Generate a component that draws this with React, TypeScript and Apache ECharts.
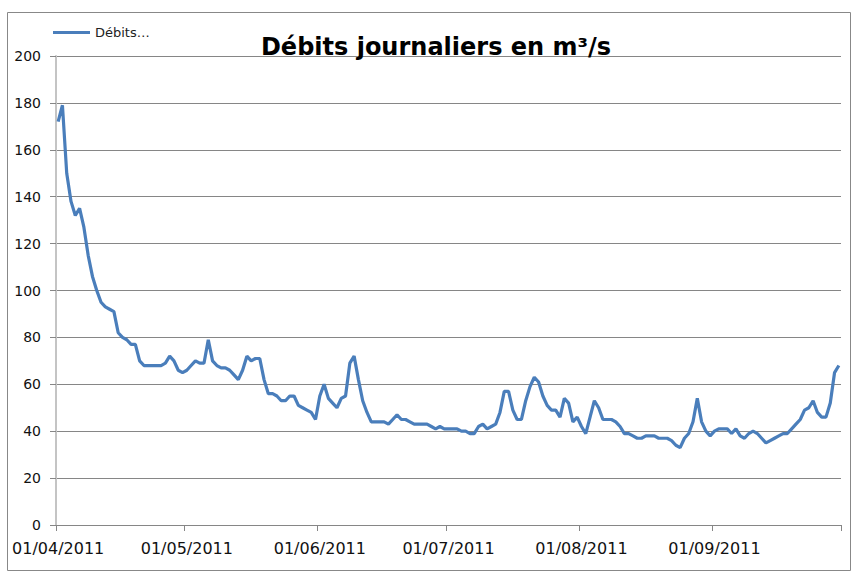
import React, { useEffect, useRef } from "react";
import * as echarts from "echarts";

// Daily discharge (m³/s)
const aprilFlow = [172, 179, 150, 138, 132, 135, 127, 115, 106, 100, 95, 93, 92, 91, 82, 80, 79, 77, 77, 70, 68, 68, 68, 68, 68, 69, 72, 70, 66, 65];
const mayFlow = [66, 68, 70, 69, 69, 79, 70, 68, 67, 67, 66, 64, 62, 66, 72, 70, 71, 71, 62, 56, 56, 55, 53, 53, 55, 55, 51, 50, 49, 48, 45];
const juneFlow = [55, 60, 54, 52, 50, 54, 55, 69, 72, 62, 53, 48, 44, 44, 44, 44, 43, 45, 47, 45, 45, 44, 43, 43, 43, 43, 42, 41, 42, 41];
const julyFlow = [41, 41, 41, 40, 40, 39, 39, 42, 43, 41, 42, 43, 48, 57, 57, 49, 45, 45, 53, 59, 63, 61, 55, 51, 49, 49, 46, 54, 52, 44, 46];
const augustFlow = [42, 39, 46, 53, 50, 45, 45, 45, 44, 42, 39, 39, 38, 37, 37, 38, 38, 38, 37, 37, 37, 36, 34, 33, 37, 39, 44, 54, 44, 40, 38];
const septemberFlow = [40, 41, 41, 41, 39, 41, 38, 37, 39, 40, 39, 37, 35, 36, 37, 38, 39, 39, 41, 43, 45, 49, 50, 53, 48, 46, 46, 52, 65, 68];

const months = ["04", "05", "06", "07", "08", "09"];
const monthlyFlows = [aprilFlow, mayFlow, juneFlow, julyFlow, augustFlow, septemberFlow];
const year = "2011";

const seriesName = "Débits…";
const titleText = "Débits journaliers en m³/s";
const yTicks = { min: 0, max: 200, interval: 20 };

const dates: string[] = [];
const values: number[] = [];
monthlyFlows.forEach((arr, m) => {
  arr.forEach((v, i) => {
    const dd = String(i + 1).padStart(2, "0");
    dates.push(`${dd}/${months[m]}/${year}`);
    values.push(v);
  });
});

const isMonthStart = (_i: number, v: string) => v.startsWith("01/");

export default function App() {
  const ref = useRef<HTMLDivElement>(null);
  useEffect(() => {
    if (!ref.current) return;
    const chart = echarts.init(ref.current, undefined, { renderer: "svg" });
    chart.setOption({
      animation: false,
      backgroundColor: "#ffffff",
      title: {
        text: titleText,
        left: 436,
        top: 35,
        padding: 0,
        textAlign: "center",
        textStyle: {
          fontFamily: "DejaVu Sans",
          fontWeight: "bold",
          fontSize: 24,
          color: "#000000",
        },
      },
      legend: {
        left: 53,
        top: 26,
        padding: 0,
        icon: "rect",
        itemWidth: 37,
        itemHeight: 3,
        itemGap: 5,
        textStyle: { fontFamily: "DejaVu Sans", fontSize: 13, color: "#222" },
        data: [seriesName],
      },
      graphic: [
        {
          type: "rect",
          shape: { x: 7.5, y: 12.5, width: 843, height: 558 },
          style: { fill: "none", stroke: "#888888", lineWidth: 1 },
          silent: true,
        },
      ],
      grid: { left: 56, right: 13, top: 56, bottom: 50, containLabel: false },
      xAxis: {
        type: "category",
        data: dates,
        boundaryGap: true,
        axisLine: { show: true, lineStyle: { color: "#868686", width: 1 } },
        axisTick: { show: true, interval: isMonthStart, length: 6, lineStyle: { color: "#868686" } },
        axisLabel: {
          interval: isMonthStart,
          margin: 15,
          fontFamily: "DejaVu Sans",
          fontSize: 16,
          color: "#111",
        },
        splitLine: { show: false },
      },
      yAxis: {
        type: "value",
        min: yTicks.min,
        max: yTicks.max,
        interval: yTicks.interval,
        axisLine: { show: true, lineStyle: { color: "#c4c4c4", width: 2 } },
        axisTick: { show: true, length: 6, lineStyle: { color: "#868686" } },
        axisLabel: {
          margin: 15,
          fontFamily: "DejaVu Sans",
          fontSize: 14,
          color: "#111",
        },
        splitLine: { show: true, lineStyle: { color: "#868686", width: 1 } },
      },
      series: [
        {
          name: seriesName,
          type: "line",
          data: values,
          showSymbol: false,
          symbol: "none",
          lineStyle: { color: "#4A7EBB", width: 3.2 },
          itemStyle: { color: "#4A7EBB" },
        },
      ],
    });
    return () => chart.dispose();
  }, []);
  return (
    <div
      ref={ref}
      style={{ position: "fixed", left: 0, top: 0, width: 854, height: 575 }}
    />
  );
}
